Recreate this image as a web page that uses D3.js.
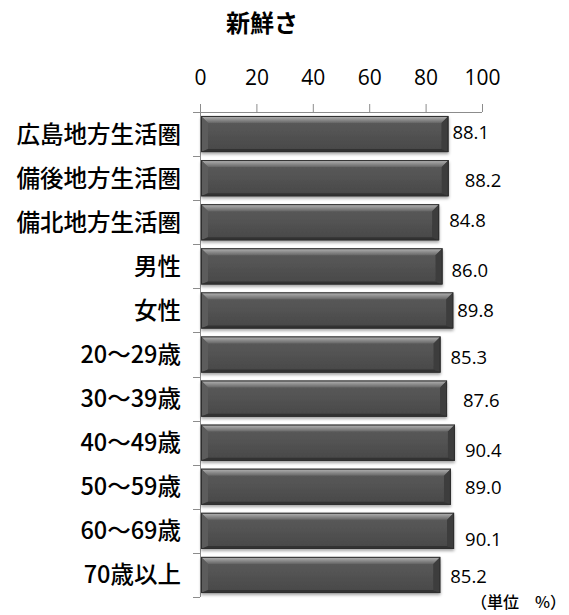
<!DOCTYPE html>
<html>
<head>
<meta charset="utf-8">
<script src="https://cdn.jsdelivr.net/npm/d3@7"></script>
<style>
  html, body { margin: 0; padding: 0; background: #fff; }
  svg { display: block; }
</style>
</head>
<body>
<div id="chart"></div>
<script>
// 新鮮さ — 回答割合（%）
const categories = ["広島地方生活圏", "備後地方生活圏", "備北地方生活圏", "男性", "女性",
  "20～29歳", "30～39歳", "40～49歳", "50～59歳", "60～69歳", "70歳以上"];
const values = [88.1, 88.2, 84.8, 86.0, 89.8, 85.3, 87.6, 90.4, 89.0, 90.1, 85.2];
const tickValues = [0, 20, 40, 60, 80, 100];
const chartTitle = "新鮮さ";
const unitLabel = "（単位　%）";

// hand-placed label offsets (dx from bar end, dy from band centre)
const labelNudge = [[4, -2], [16, 2], [10, -2], [9, 4], [4, 0], [10, 3], [16, 2], [10, 8], [14, 1], [11, 8], [10, 1]];

const W = 569, H = 615;
const plot = { left: 200, right: 482, top: 112, bottom: 597 };

const svg = d3.select("#chart").append("svg").attr("width", W).attr("height", H);
const defs = svg.append("defs");

const face = defs.append("linearGradient").attr("id", "face").attr("x1", 0).attr("y1", 0).attr("x2", 0).attr("y2", 1);
face.append("stop").attr("offset", "0%").attr("stop-color", "#5c5c5c");
face.append("stop").attr("offset", "100%").attr("stop-color", "#484848");

const topBevel = defs.append("linearGradient").attr("id", "topBevel").attr("x1", 0).attr("y1", 0).attr("x2", 0).attr("y2", 1);
topBevel.append("stop").attr("offset", "0%").attr("stop-color", "#b8b8b8");
topBevel.append("stop").attr("offset", "100%").attr("stop-color", "#666");

const shadow = defs.append("filter").attr("id", "shadow").attr("x", "-5%").attr("y", "-30%").attr("width", "110%").attr("height", "160%");
shadow.append("feDropShadow").attr("dx", 0).attr("dy", 2).attr("stdDeviation", 1.8)
  .attr("flood-color", "#000").attr("flood-opacity", 0.35);

const x = d3.scaleLinear().domain([0, 100]).range([plot.left, plot.right]);
const y = d3.scaleBand().domain(categories).range([plot.top, plot.bottom]).paddingInner(0.18).paddingOuter(0.09);

// title
svg.append("text").attr("x", 262).attr("y", 32).attr("text-anchor", "middle")
  .style("font-family", "'Noto Sans CJK JP', sans-serif").style("font-weight", 700).style("font-size", "24px")
  .attr("fill", "#000").text(chartTitle);

// top value axis
const xAxis = svg.append("g").attr("transform", `translate(0,${plot.top})`)
  .call(d3.axisTop(x).tickValues(tickValues).tickSize(8).tickPadding(19).tickFormat(d3.format("d")));
xAxis.select(".domain").attr("stroke", "#8c8c8c").attr("d", `M${plot.left - 7},0.5H${plot.right}`);
xAxis.selectAll(".tick line").attr("stroke", "#8c8c8c");
xAxis.selectAll(".tick text").attr("fill", "#000")
  .style("font-family", "'Open Sans', sans-serif").style("font-size", "21px");

// left category axis: line plus ticks at band boundaries
const bandStep = (plot.bottom - plot.top) / categories.length;
const boundaries = d3.range(categories.length + 1).map(i => plot.top + i * bandStep);
svg.append("line").attr("x1", plot.left + 0.5).attr("x2", plot.left + 0.5)
  .attr("y1", plot.top - 8).attr("y2", plot.bottom).attr("stroke", "#8c8c8c");
svg.append("g").selectAll("line").data(boundaries).join("line")
  .attr("x1", plot.left - 7).attr("x2", plot.left)
  .attr("y1", d => Math.round(d) + 0.5).attr("y2", d => Math.round(d) + 0.5).attr("stroke", "#8c8c8c");

svg.append("g").selectAll("text").data(categories).join("text")
  .attr("x", 181).attr("y", d => y(d) + y.bandwidth() / 2).attr("dy", "0.36em")
  .attr("text-anchor", "end").attr("fill", "#000")
  .style("font-family", "'Noto Sans CJK JP', sans-serif").style("font-weight", 500).style("font-size", "23.5px")
  .text(d => d);

// bevelled bars
const b = 7;
const bars = svg.append("g").selectAll("g").data(values).join("g")
  .attr("filter", "url(#shadow)");
bars.each(function (v, i) {
  const g = d3.select(this);
  const x0 = x(0) + 1, x1 = x(v), y0 = y(categories[i]), y1 = y0 + y.bandwidth();
  g.append("rect").attr("x", x0).attr("y", y0).attr("width", x1 - x0).attr("height", y1 - y0)
    .attr("fill", "url(#face)");
  g.append("polygon").attr("points", [[x0, y0], [x1, y0], [x1 - b, y0 + b], [x0 + b, y0 + b]].join(" "))
    .attr("fill", "url(#topBevel)");
  g.append("polygon").attr("points", [[x0, y0], [x0 + b, y0 + b], [x0 + b, y1 - 3], [x0, y1]].join(" "))
    .attr("fill", "#5c5c5c");
  g.append("polygon").attr("points", [[x1, y0], [x1, y1], [x1 - b, y1 - 3], [x1 - b, y0 + b]].join(" "))
    .attr("fill", "#3c3c3c");
  g.append("polygon").attr("points", [[x0, y1], [x1, y1], [x1 - b, y1 - 3], [x0 + b, y1 - 3]].join(" "))
    .attr("fill", "#333");
  g.append("rect").attr("x", x0 + 0.5).attr("y", y0 + 0.5).attr("width", x1 - x0 - 1).attr("height", y1 - y0 - 1)
    .attr("fill", "none").attr("stroke", "#2e2e2e").attr("stroke-width", 1);
});

// value labels
svg.append("g").selectAll("text").data(values).join("text")
  .attr("x", (v, i) => x(v) + labelNudge[i][0])
  .attr("y", (v, i) => y(categories[i]) + y.bandwidth() / 2 + labelNudge[i][1])
  .attr("dy", "0.36em").attr("fill", "#000")
  .style("font-family", "'Open Sans', sans-serif").style("font-size", "18.5px")
  .text(v => d3.format(".1f")(v));

// unit note
svg.append("text").attr("x", 566).attr("y", 602).attr("dy", "0.36em").attr("text-anchor", "end").attr("fill", "#000")
  .style("font-family", "'Noto Sans CJK JP', sans-serif").style("font-weight", 500).style("font-size", "16px")
  .text(unitLabel);
</script>
</body>
</html>
